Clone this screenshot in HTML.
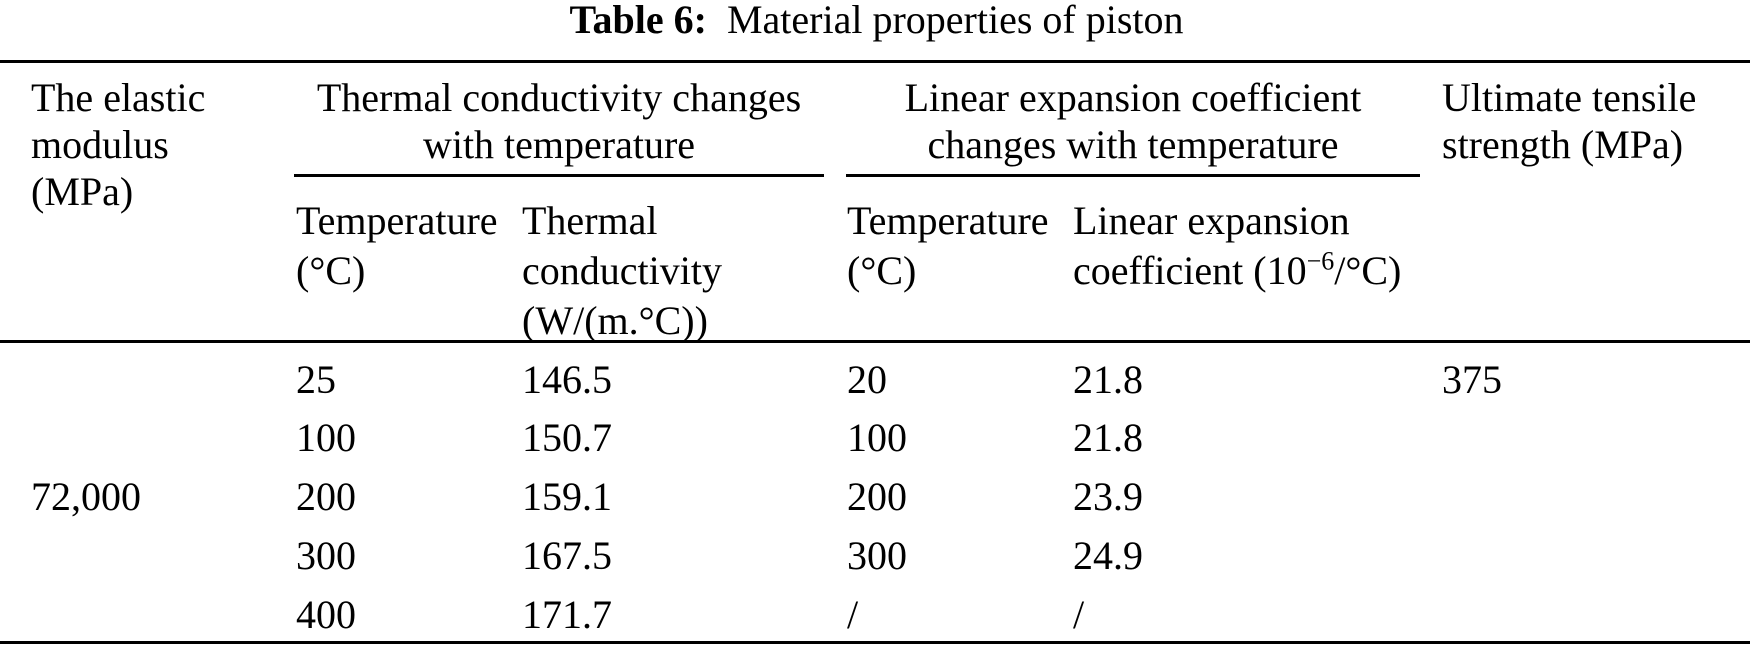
<!DOCTYPE html>
<html><head><meta charset="utf-8"><style>
html,body{margin:0;padding:0;background:#fff;}
body{width:1753px;height:647px;position:relative;overflow:hidden;font-family:"Liberation Serif",serif;font-size:40px;color:#000;}
.t{position:absolute;white-space:nowrap;line-height:48px;height:48px;}
.r{position:absolute;background:#000;}
</style></head><body>
<div class="t" style="left:0;width:1753px;text-align:center;top:-4px;"><b>Table 6:</b>&nbsp; Material properties of piston</div>
<div class="r" style="left:0;width:1750px;top:60px;height:3px;"></div>

<div class="t" style="left:31px;top:74px;">The elastic</div>
<div class="t" style="left:31px;top:121px;">modulus</div>
<div class="t" style="left:31px;top:168px;">(MPa)</div>

<div class="t" style="left:294px;width:530px;text-align:center;top:74px;">Thermal conductivity changes</div>
<div class="t" style="left:294px;width:530px;text-align:center;top:121px;">with temperature</div>
<div class="r" style="left:294px;width:530px;top:174px;height:3px;"></div>

<div class="t" style="left:846px;width:574px;text-align:center;top:74px;">Linear expansion coefficient</div>
<div class="t" style="left:846px;width:574px;text-align:center;top:121px;">changes with temperature</div>
<div class="r" style="left:846px;width:574px;top:174px;height:3px;"></div>

<div class="t" style="left:1442px;top:74px;">Ultimate tensile</div>
<div class="t" style="left:1442px;top:121px;">strength (MPa)</div>

<div class="t" style="left:296px;top:197px;">Temperature</div>
<div class="t" style="left:296px;top:247px;">(°C)</div>
<div class="t" style="left:522px;top:197px;">Thermal</div>
<div class="t" style="left:522px;top:247px;">conductivity</div>
<div class="t" style="left:522px;top:297px;">(W/(m.°C))</div>
<div class="t" style="left:847px;top:197px;">Temperature</div>
<div class="t" style="left:847px;top:247px;">(°C)</div>
<div class="t" style="left:1073px;top:197px;">Linear expansion</div>
<div class="t" style="left:1073px;top:247px;">coefficient (10<sup style="font-size:26px;line-height:0;">−6</sup>/°C)</div>

<div class="r" style="left:0;width:1750px;top:340px;height:3px;"></div>

<div class="t" style="left:31px;top:473px;">72,000</div>

<div class="t" style="left:296px;top:356px;">25</div>
<div class="t" style="left:522px;top:356px;">146.5</div>
<div class="t" style="left:847px;top:356px;">20</div>
<div class="t" style="left:1073px;top:356px;">21.8</div>
<div class="t" style="left:1442px;top:356px;">375</div>

<div class="t" style="left:296px;top:414px;">100</div>
<div class="t" style="left:522px;top:414px;">150.7</div>
<div class="t" style="left:847px;top:414px;">100</div>
<div class="t" style="left:1073px;top:414px;">21.8</div>

<div class="t" style="left:296px;top:473px;">200</div>
<div class="t" style="left:522px;top:473px;">159.1</div>
<div class="t" style="left:847px;top:473px;">200</div>
<div class="t" style="left:1073px;top:473px;">23.9</div>

<div class="t" style="left:296px;top:532px;">300</div>
<div class="t" style="left:522px;top:532px;">167.5</div>
<div class="t" style="left:847px;top:532px;">300</div>
<div class="t" style="left:1073px;top:532px;">24.9</div>

<div class="t" style="left:296px;top:591px;">400</div>
<div class="t" style="left:522px;top:591px;">171.7</div>
<div class="t" style="left:847px;top:591px;">/</div>
<div class="t" style="left:1073px;top:591px;">/</div>

<div class="r" style="left:0;width:1750px;top:641px;height:3px;"></div>
</body></html>
